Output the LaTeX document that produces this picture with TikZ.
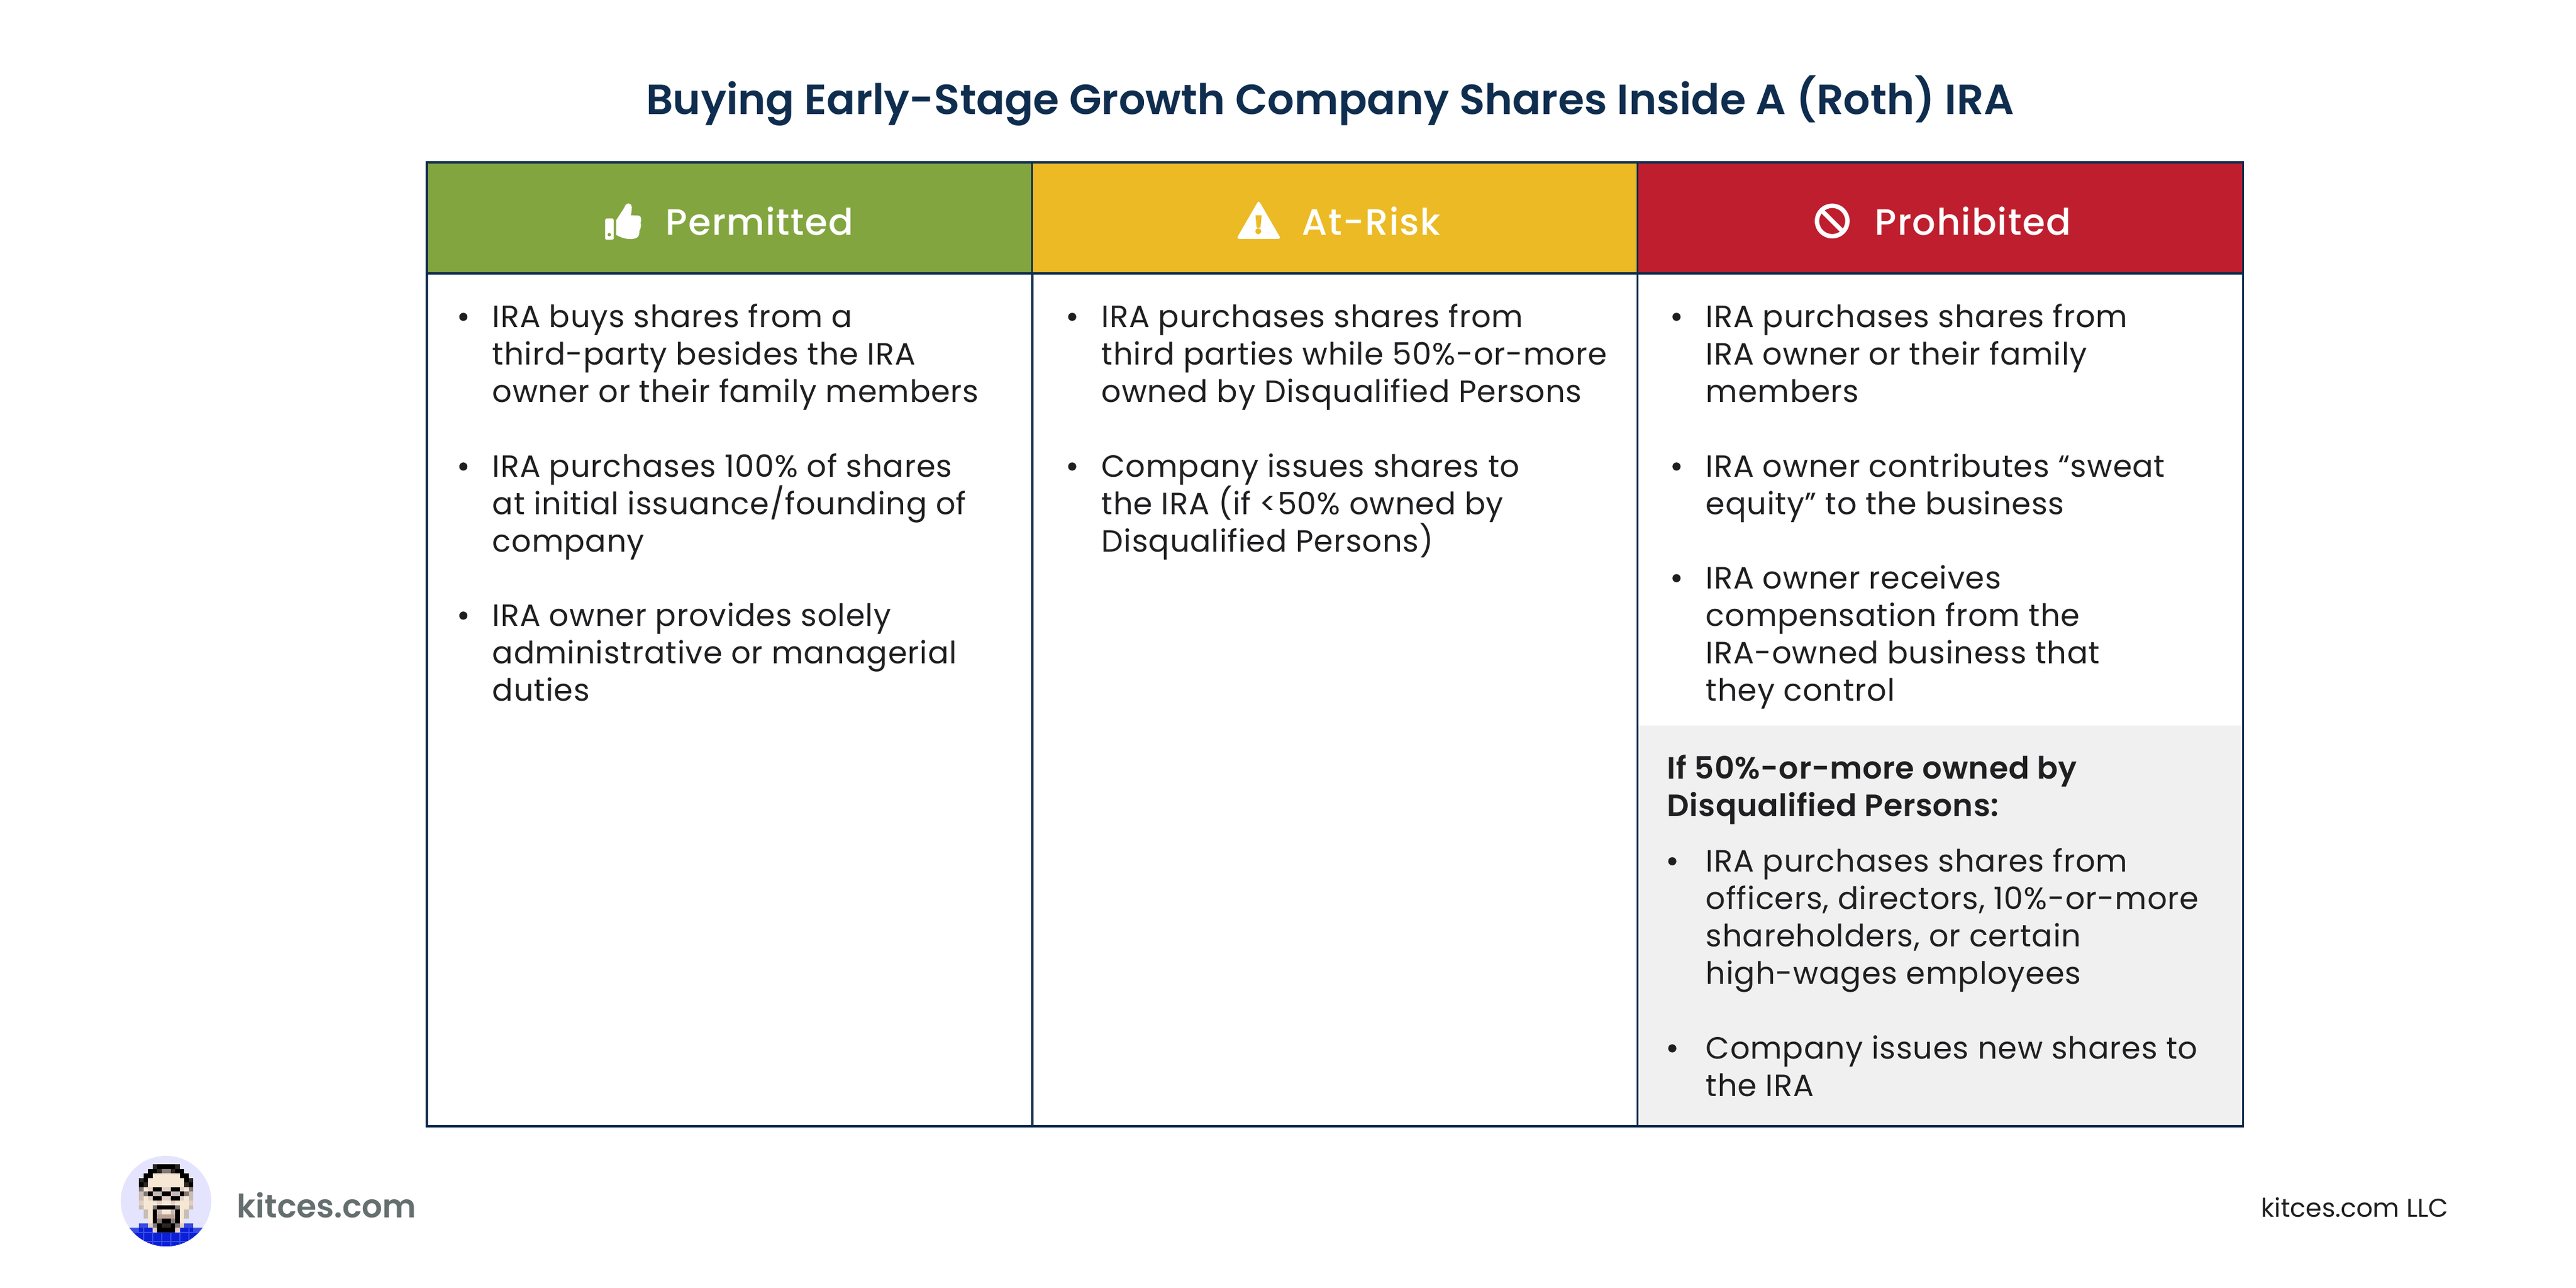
\documentclass[tikz,border=0pt]{standalone}
\usepackage{fontspec}
\setmainfont{Poppins}
\newfontfamily\bodyfont[LetterSpace=1.8]{Poppins}
\newfontfamily\boldfont[LetterSpace=1.2]{Poppins SemiBold}
\newfontfamily\headfont[LetterSpace=2.2]{Poppins Medium}
\usepackage{xcolor}
\usepackage{tikz}
\definecolor{navy}{HTML}{0F2D4E}
\definecolor{inkgray}{HTML}{1F1F21}
\definecolor{logogray}{HTML}{666F6F}
\definecolor{okgreen}{HTML}{82A53F}
\definecolor{riskyellow}{HTML}{EBBA24}
\definecolor{stopred}{HTML}{BE1E2D}
\definecolor{panelgray}{HTML}{F0F0F0}
% avatar
\definecolor{lavender}{HTML}{E4E4FE}
\definecolor{hairblk}{HTML}{000000}
\definecolor{hairdk}{HTML}{2C2623}
\definecolor{hairgy}{HTML}{857A75}
\definecolor{skin}{HTML}{F6E7D5}
\definecolor{skinpk}{HTML}{E3CEC5}
\definecolor{lensgy}{HTML}{C4B8B5}
\definecolor{sidegy}{HTML}{C8BCB6}
\definecolor{chinrd}{HTML}{BBA097}
\definecolor{shirtbl}{HTML}{0B1FD8}
\definecolor{shirtlt}{HTML}{3A4CE0}
\newcommand{\firstline}{\rule{0pt}{.5cm}}
\tikzstyle{headcell} = [draw=navy, line width=.035cm, minimum width=10.03cm, minimum height=1.835cm, inner sep=0]
\tikzstyle{bodycell} = [draw=navy, line width=.035cm, minimum width=10.03cm, minimum height=14.13cm, inner sep=0]
\tikzstyle{headtext} = [draw=none, inner sep=0, anchor=base west, text=white, font=\fontsize{17.3}{20}\headfont]
\tikzstyle{bodytext} = [draw=none, inner sep=0, anchor=north west, align=left, text=inkgray, font=\fontsize{14.5}{17.6}\bodyfont]
\tikzstyle{dot} = [fill=inkgray, draw=none, circle, inner sep=0, minimum size=.135cm]
\begin{document}
\begin{tikzpicture}
\useasboundingbox (0, 0) rectangle (42.67, 21.34);
\fill [white] (0, 0) rectangle (42.67, 21.34);
\node [draw=none, inner sep=0, anchor=base, text=navy, font=\fontsize{19.85}{24}\selectfont\fontspec{Poppins SemiBold}] (title) at (22.03, 19.44) {Buying Early-Stage Growth Company Shares Inside A (Roth) IRA};

% table
\node [fill=panelgray, draw=none, inner sep=0, minimum width=10.03cm, minimum height=6.64cm] (panel) at (32.14, 6.00) {};
\node [headcell, fill=okgreen] (permit) at (12.085, 17.73) {};
\node [headcell, fill=riskyellow] (risk) at (22.11, 17.73) {};
\node [headcell, fill=stopred] (stop) at (32.14, 17.73) {};
\node [bodycell] (col1) at (12.085, 9.745) {};
\node [bodycell] (col2) at (22.11, 9.745) {};
\node [bodycell] (col3) at (32.14, 9.745) {};
\node [headtext] (permitlab) at (11.02, 17.44) {Permitted};
\node [headtext] (risklab) at (21.56, 17.44) {At-Risk};
\node [headtext] (stoplab) at (31.05, 17.44) {Prohibited};

% icons, in crop pixels
\begin{scope}[shift={(9.90, 18.14)}, x=.00333cm, y=-.00333cm]
\fill [white, even odd rule, rounded corners=.5pt] (37,127) rectangle (80,232) (58,207) circle (9);
\fill [white] (92,135) -- (133,72) .. controls (138,50) and (165,40) .. (170,70) .. controls (170,85) and (168,98) .. (165,110) -- (203,112) .. controls (215,113) and (220,125) .. (214,148) .. controls (218,160) and (215,175) .. (208,188) .. controls (208,205) and (205,215) .. (195,222) .. controls (170,235) and (130,230) .. (92,208) -- cycle;
\end{scope}
\begin{scope}[shift={(20.40, 18.14)}, x=.00333cm, y=-.00333cm]
\fill [white, rounded corners=1.2pt] (135,36) -- (246,228) -- (24,228) -- cycle;
\fill [riskyellow] (119,110) -- (150,110) -- (144,172) -- (125,172) -- cycle;
\fill [riskyellow] (133,190) circle (15);
\end{scope}
\begin{scope}[shift={(30.00, 18.14)}, x=.00333cm, y=-.00333cm]
\draw [white, line width=.073cm] (105,139) circle (76);
\draw [white, line width=.073cm] (53,87) -- (157,191);
\end{scope}

% Permitted
\node [dot] (d11) at (7.675, 16.09) {};
\node [bodytext] (t11) at (8.15, 16.42) {\firstline IRA buys shares from a\\third-party besides the IRA\\owner or their family members};
\node [dot] (d12) at (7.675, 13.61) {};
\node [bodytext] (t12) at (8.15, 13.94) {\firstline IRA purchases 100\% of shares\\at initial issuance/founding of\\company};
\node [dot] (d13) at (7.675, 11.14) {};
\node [bodytext] (t13) at (8.15, 11.47) {\firstline IRA owner provides solely\\administrative or managerial\\duties};

% At-Risk
\node [dot] (d21) at (17.76, 16.09) {};
\node [bodytext] (t21) at (18.24, 16.42) {\firstline IRA purchases shares from\\third parties while 50\%-or-more\\owned by Disqualified Persons};
\node [dot] (d22) at (17.76, 13.61) {};
\node [bodytext] (t22) at (18.24, 13.94) {\firstline Company issues shares to\\the IRA (if <50\% owned by\\Disqualified Persons)};

% Prohibited
\node [dot] (d31) at (27.77, 16.09) {};
\node [bodytext] (t31) at (28.25, 16.42) {\firstline IRA purchases shares from\\IRA owner or their family\\members};
\node [dot] (d32) at (27.77, 13.61) {};
\node [bodytext] (t32) at (28.25, 13.94) {\firstline IRA owner contributes “sweat\\equity” to the business};
\node [dot] (d33) at (27.77, 11.76) {};
\node [bodytext] (t33) at (28.25, 12.09) {\firstline IRA owner receives\\compensation from the\\IRA-owned business that\\they control};
\node [bodytext, font=\fontsize{14.5}{17.6}\boldfont] (t34) at (27.61, 8.94) {\firstline If 50\%-or-more owned by\\Disqualified Persons:};
\node [dot] (d35) at (27.70, 7.07) {};
\node [bodytext] (t35) at (28.25, 7.40) {\firstline IRA purchases shares from\\officers, directors, 10\%-or-more\\shareholders, or certain\\high-wages employees};
\node [dot] (d36) at (27.70, 3.97) {};
\node [bodytext] (t36) at (28.25, 4.30) {\firstline Company issues new shares to\\the IRA};

% footer
\node [draw=none, inner sep=0, anchor=base west, text=logogray, font=\fontsize{15.2}{20}\selectfont\fontspec{Poppins SemiBold}] (site) at (3.92, 1.16) {kitces.com};
\node [draw=none, inner sep=0, anchor=base west, text=inkgray, font=\fontsize{12.15}{14}\selectfont] (llc) at (37.45, 1.17) {kitces.com LLC};

% avatar, one unit is one pixel of the portrait
\begin{scope}[shift={(2.30, 2.0467)}, x=.075cm, y=-.075cm]
\fill [lavender] (6, 8.09) circle (10);
\begin{scope}
\clip (6, 8.09) circle (10);
\fill [shirtlt] (-4, 14) rectangle (16, 19);
\fill [shirtbl] (0, 14) rectangle (12, 19);
\fill [shirtbl] (-1, 15) rectangle (13, 19);
\fill [shirtlt] (0, 13) rectangle (2, 14);
\fill [shirtlt] (10, 13) rectangle (12, 14);
\foreach \cc in {-2, 0, ..., 14}
  \draw [shirtlt, line width=.02cm] (\cc+1, 14) -- (\cc+1, 19);
\foreach \rr in {15, 17}
  \draw [shirtlt, line width=.02cm] (-4, \rr) -- (16, \rr);
\end{scope}
\foreach \rr/\cc/\ww/\tone in {
  0/3/1/hairdk, 0/4/4/hairblk, 0/8/1/hairdk,
  1/2/2/hairblk, 1/4/1/hairdk, 1/5/2/hairgy, 1/7/1/hairdk, 1/8/2/hairblk,
  2/1/2/hairblk, 2/3/6/skin, 2/9/2/hairblk,
  3/0/1/hairdk, 3/1/1/hairblk, 3/2/8/skin, 3/10/1/hairblk, 3/11/1/hairdk,
  4/0/1/hairblk, 4/1/1/hairdk, 4/2/8/skin, 4/10/1/hairdk, 4/11/1/hairblk,
  5/0/1/hairgy, 5/1/1/skin, 5/2/1/skinpk, 5/3/2/hairblk, 5/5/2/skinpk, 5/7/2/hairblk, 5/9/1/skinpk, 5/10/1/skin, 5/11/1/hairgy,
  6/0/1/sidegy, 6/1/1/hairgy, 6/2/1/hairblk, 6/3/2/lensgy, 6/5/2/hairblk, 6/7/2/lensgy, 6/9/1/hairblk, 6/10/1/hairgy, 6/11/1/sidegy,
  7/0/1/sidegy, 7/1/1/skin, 7/2/1/skinpk, 7/3/2/hairblk, 7/5/2/skinpk, 7/7/2/hairblk, 7/9/1/skinpk, 7/10/1/skin, 7/11/1/sidegy,
  8/0/1/skinpk, 8/1/3/skin, 8/4/1/skinpk, 8/5/2/skin, 8/7/1/skinpk, 8/8/3/skin, 8/11/1/skinpk,
  9/0/1/sidegy, 9/1/2/skin, 9/3/1/hairgy, 9/4/4/hairblk, 9/8/1/hairgy, 9/9/2/skin, 9/11/1/sidegy,
  10/1/1/sidegy, 10/2/1/skin, 10/3/1/hairblk, 10/4/1/lensgy, 10/5/2/skin, 10/7/1/lensgy, 10/8/1/hairblk, 10/9/1/skin, 10/10/1/sidegy,
  11/1/1/sidegy, 11/2/1/skin, 11/3/1/hairblk, 11/4/4/chinrd, 11/8/1/hairblk, 11/9/1/skin, 11/10/1/sidegy,
  12/2/1/skin, 12/3/1/hairblk, 12/4/1/hairgy, 12/5/2/hairblk, 12/7/1/hairgy, 12/8/1/hairblk, 12/9/1/skin,
  13/2/1/skinpk, 13/3/1/hairgy, 13/4/1/hairblk, 13/5/2/hairdk, 13/7/1/hairblk, 13/8/1/hairgy, 13/9/1/skinpk,
  14/3/1/skinpk, 14/4/4/hairblk, 14/8/1/skinpk}
  \fill [\tone] (\cc, \rr) rectangle ++(\ww, 1);
\end{scope}
\end{tikzpicture}
\end{document}
